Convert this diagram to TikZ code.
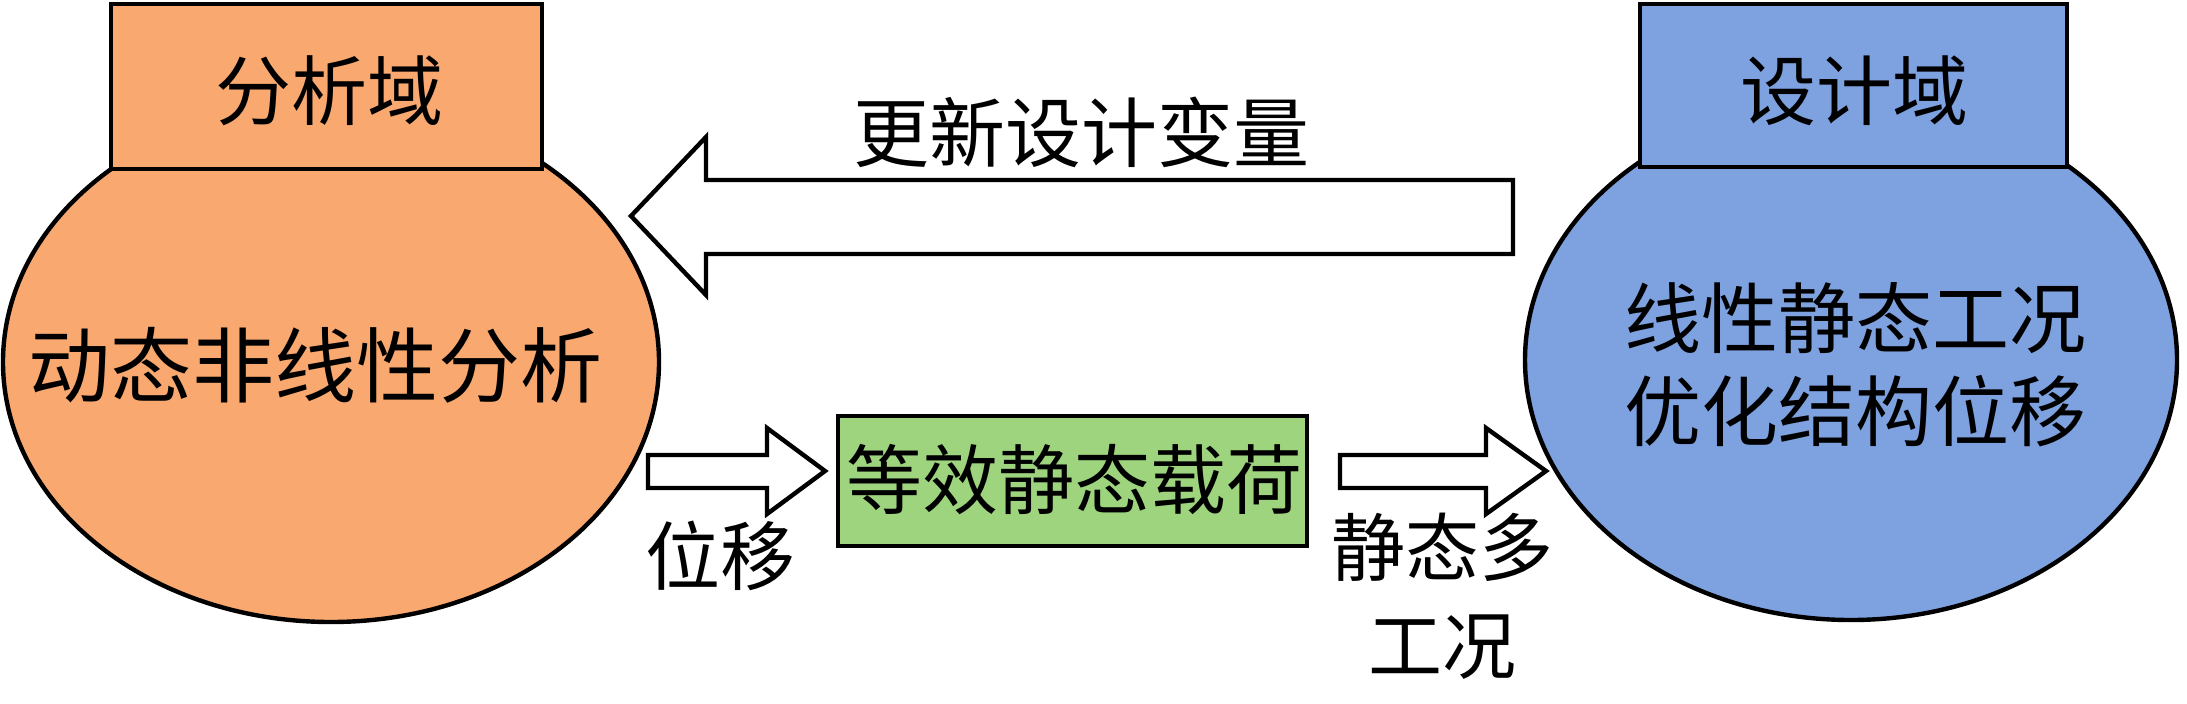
\documentclass[tikz,border=0pt]{standalone}
\usepackage{fontspec}
\setmainfont{Noto Sans CJK SC}
\usetikzlibrary{shapes.geometric}
\definecolor{orangefill}{HTML}{F9A86F}
\definecolor{bluefill}{HTML}{7EA1E0}
\definecolor{greenfill}{HTML}{9ED47E}
\begin{document}
\begin{tikzpicture}[x=0.5pt,y=-0.5pt, line width=2.2pt,
  regionoval/.style={ellipse, draw=black, inner sep=0pt},
  titlebox/.style={rectangle, draw=black, inner sep=0pt},
  lbl/.style={font=\fontsize{38}{46}\selectfont, inner sep=0pt, align=center},
  biglbl/.style={font=\fontsize{41}{48}\selectfont, inner sep=0pt},
  blockarrow/.style={draw=black, fill=white, line join=miter}]
\useasboundingbox (0,0) rectangle (2187,703);

% analysis domain
\node[regionoval, fill=orangefill, minimum width=328pt, minimum height=260pt] (ana) at (331,362) {};
\node[titlebox, fill=orangefill, minimum width=215.5pt, minimum height=82.5pt] (anatitle) at (326.5,86.5) {};
\node[lbl] (anatitletext) at (329,91) {分析域};
\node[biglbl] (anatext) at (315,365) {动态非线性分析};

% design domain
\node[regionoval, fill=bluefill, minimum width=326pt, minimum height=260pt] (des) at (1851,360) {};
\node[titlebox, fill=bluefill, minimum width=213.5pt, minimum height=81.5pt] (destitle) at (1853.5,85.5) {};
\node[lbl] (destitletext) at (1854,91) {设计域};
\node[lbl, font=\fontsize{38.5}{46.5}\selectfont] (destext) at (1855,364.5) {线性静态工况\\优化结构位移};

% equivalent static load box
\node[titlebox, fill=greenfill, minimum width=234.5pt, minimum height=65pt] (esl) at (1072.5,481) {};
\node[lbl] (esltext) at (1074,480) {等效静态载荷};

% big arrow: update design variables
\draw[blockarrow] (1513,180) -- (706,180) -- (706,137) -- (631,216) -- (706,295) -- (706,254) -- (1513,254) -- cycle;
\node[lbl] (update) at (1081,132) {更新设计变量};

% small arrows
\draw[blockarrow] (648,455) -- (767,455) -- (767,428) -- (825,471) -- (767,514) -- (767,488) -- (648,488) -- cycle;
\draw[blockarrow] (1340,455) -- (1486,455) -- (1486,428) -- (1546,471) -- (1486,514) -- (1486,488) -- (1340,488) -- cycle;

\node[lbl, font=\fontsize{37.5}{46}\selectfont] (disp) at (720,556) {位移};
\node[lbl, font=\fontsize{37}{49}\selectfont] (multi) at (1442,596) {静态多\\工况};
\end{tikzpicture}
\end{document}
